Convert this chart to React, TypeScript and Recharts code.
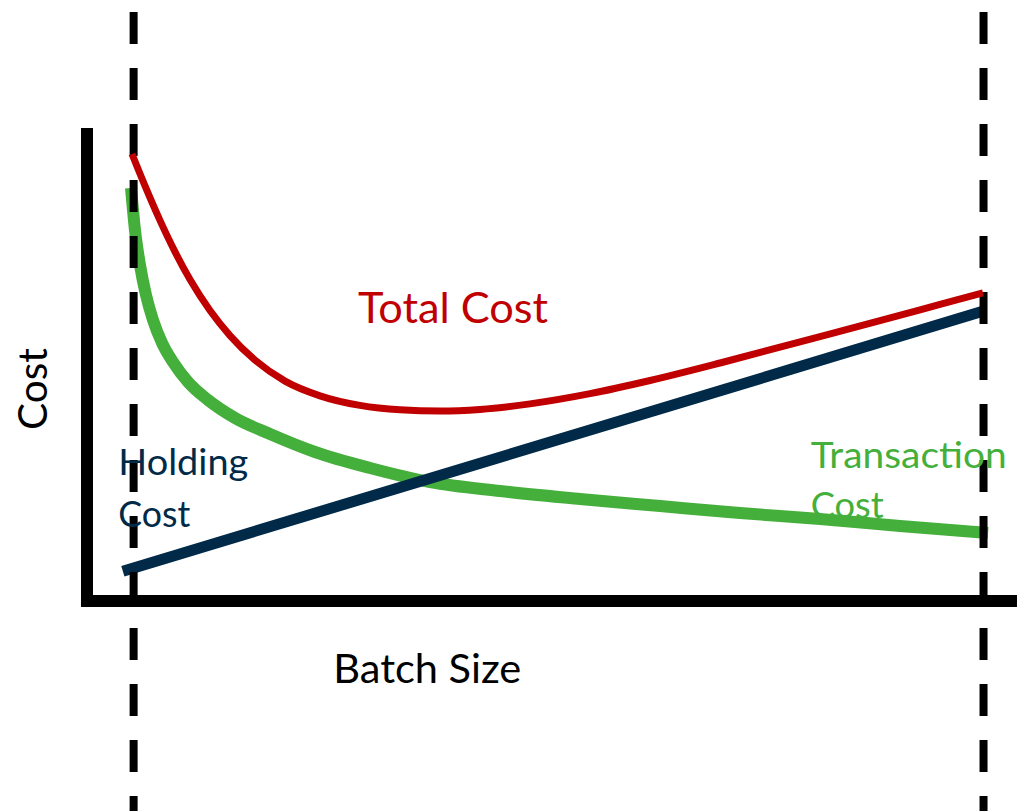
import React from 'react';
import { LineChart, Line, XAxis, YAxis, ReferenceLine, ReferenceDot } from 'recharts';

// Batch size (x) and cost (y) values
const holdingBatch = [4.0, 100];
const holdingCost = [6.3, 61.3];

const transactionBatch = [
  4.91, 5.35, 5.91, 6.58, 7.36, 8.37, 9.59, 11.27, 13.5, 16.51, 20.41, 25.43, 31.57, 38.26, 46.07, 54.99, 63.92,
  72.84, 81.76, 90.69, 100.5,
];
const transactionCost = [
  87.32, 78.44, 71.04, 64.69, 59.41, 54.55, 50.53, 46.3, 42.49, 38.69, 35.31, 31.5, 28.12, 25.16, 23.26, 21.56, 20.08,
  18.6, 17.34, 15.86, 14.38,
];

const totalBatch = [
  5.02, 6.47, 8.14, 9.82, 11.49, 13.72, 15.95, 18.74, 22.09, 25.99, 30.45, 34.91, 39.38, 43.84, 49.41, 56.11, 62.8,
  70.61, 79.53, 88.45, 95.15, 99.94,
];
const totalCost = [
  94.5, 87.76, 80.47, 73.81, 67.95, 61.4, 56.11, 50.93, 46.49, 43.38, 41.35, 40.42, 40.17, 40.51, 41.67, 43.83, 46.62,
  50.32, 54.8, 59.28, 62.71, 65.16,
];

const boundaryBatch = [5.2, 100];

const seriesNames = ['Total Cost', 'Holding Cost', 'Transaction Cost'];
const xTitle = 'Batch Size';
const yTitle = 'Cost';

const toRows = (xs: number[], ys: number[]) => xs.map((b, i) => ({ b, c: ys[i] }));
const holdingData = toRows(holdingBatch, holdingCost);
const transactionData = toRows(transactionBatch, transactionCost);
const totalData = toRows(totalBatch, totalCost);

const RED = '#C00000';
const NAVY = '#002A48';
const GREEN = '#45AF3C';
const FONT = "Lato, 'Noto Sans', sans-serif";

const makeText =
  (lines: string[], color: string, fontSize: number, widths: number[], lineGap: number, anchor: string = 'start', rotate = false) =>
  (p: any) => (
    <text
      x={p.cx}
      y={p.cy}
      fill={color}
      fontFamily={FONT}
      fontSize={fontSize}
      textAnchor={anchor}
      transform={rotate ? `rotate(-90 ${p.cx} ${p.cy})` : undefined}
    >
      {lines.map((l, i) => (
        <tspan key={i} x={p.cx} dy={i === 0 ? 0 : lineGap} textLength={widths[i]} lengthAdjust="spacingAndGlyphs">
          {l}
        </tspan>
      ))}
    </text>
  );

export default function App() {
  const [totalName, holdingName, transName] = seriesNames;
  const holdingWords = holdingName.split(' ');
  const transWords = transName.split(' ');
  return (
    <div style={{ position: 'absolute', left: 0, top: 0, width: 1017, height: 811, background: '#fff' }}>
      <LineChart width={1017} height={811} margin={{ top: 128, right: 24.5, bottom: 210, left: 87 }}>
        <XAxis type="number" dataKey="b" domain={[0, 101]} hide />
        <YAxis type="number" dataKey="c" domain={[0, 100]} hide />

        {/* axes */}
        <ReferenceLine segment={[{ x: 0, y: 100 }, { x: 0, y: 0 }]} stroke="#000" strokeWidth={12} ifOverflow="visible" />
        <ReferenceLine segment={[{ x: -0.67, y: 0 }, { x: 106, y: 0 }]} stroke="#000" strokeWidth={12} ifOverflow="visible" />

        {/* text annotations */}
        <ReferenceDot x={30.23} y={58.84} r={0} ifOverflow="visible" shape={makeText([totalName], RED, 43, [190], 0)} />
        <ReferenceDot x={3.49} y={26.64} r={0} ifOverflow="visible" shape={makeText(holdingWords, NAVY, 36.5, [130, 72], 52)} />
        <ReferenceDot x={80.72} y={28.05} r={0} ifOverflow="visible" shape={makeText(transWords, GREEN, 37, [196, 73], 50)} />
        <ReferenceDot x={27.47} y={-17.27} r={0} ifOverflow="visible" shape={makeText([xTitle], '#000', 40, [188], 0)} />
        <ReferenceDot x={-4.5} y={44.8} r={0} ifOverflow="visible" shape={makeText([yTitle], '#000', 41, [82], 0, 'middle', true)} />

        <Line data={transactionData} dataKey="c" type="monotone" stroke={GREEN} strokeWidth={12} dot={false} isAnimationActive={false} />
        <Line data={holdingData} dataKey="c" type="linear" stroke={NAVY} strokeWidth={11} dot={false} isAnimationActive={false} />

        {/* boundary dashed lines */}
        {boundaryBatch.map((b) => (
          <ReferenceLine
            key={b}
            segment={[{ x: b, y: 130 }, { x: b, y: -50 }]}
            stroke="#000"
            strokeWidth={8}
            strokeDasharray="32 24"
            strokeDashoffset={30.1}
            ifOverflow="visible"
          />
        ))}

        <Line data={totalData} dataKey="c" type="monotone" stroke={RED} strokeWidth={7} dot={false} isAnimationActive={false} />
      </LineChart>
    </div>
  );
}
